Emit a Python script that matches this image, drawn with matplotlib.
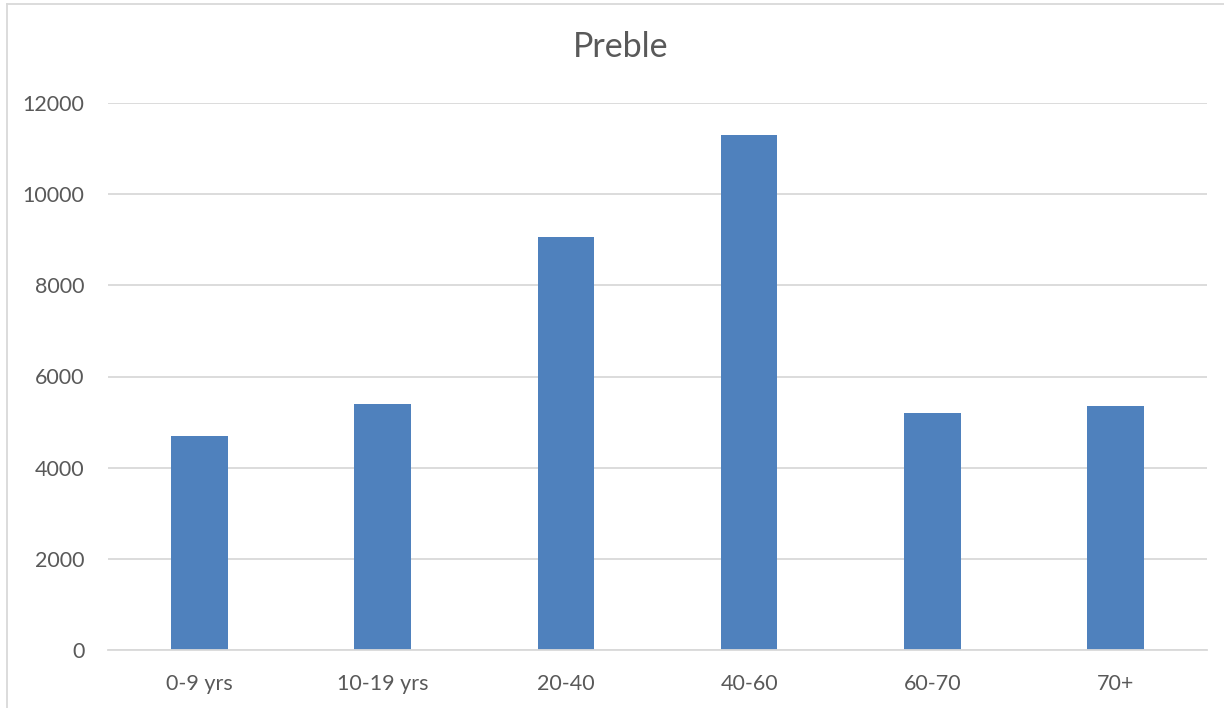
import matplotlib
matplotlib.use("Agg")
import matplotlib.pyplot as plt
from matplotlib.lines import Line2D

# Population by age group
categories = ["0-9 yrs", "10-19 yrs", "20-40", "40-60", "60-70", "70+"]
population = [4690, 5390, 9060, 11305, 5190, 5350]
y_ticks = [0, 2000, 4000, 6000, 8000, 10000, 12000]
title = "Preble"

plt.rcParams["font.family"] = ["Lato", "DejaVu Sans"]

W, H = 1224, 708
fig = plt.figure(figsize=(W / 100, H / 100), dpi=100)
ax = fig.add_axes([108 / W, (H - 650) / H, (1207 - 108) / W, (650 - 103) / H])

x = range(len(categories))
ax.bar(x, population, width=0.31, color="#4f81bd", zorder=3)

ax.set_xlim(-0.5, len(categories) - 0.5)
ax.set_ylim(0, 12000)
ax.set_yticks(y_ticks)
ax.set_yticklabels([str(v) for v in y_ticks])
ax.set_xticks(list(x))
ax.set_xticklabels(categories)

ax.grid(axis="y", color="#d9d9d9", linewidth=1.3, zorder=0)
for side in ("top", "right", "left"):
    ax.spines[side].set_visible(False)
ax.spines["bottom"].set_color("#d9d9d9")
ax.spines["bottom"].set_linewidth(1.3)
ax.spines["bottom"].set_zorder(4)

ax.tick_params(axis="both", length=0, labelsize=15.5, labelcolor="#595959")
ax.tick_params(axis="y", pad=17)
ax.tick_params(axis="x", pad=17)

fig.text(621 / W, (H - 47) / H, title, ha="center", va="center",
         fontsize=24.5, color="#595959")

# chart area frame (top and left edges)
fig.add_artist(Line2D([7 / W, 1.0], [(H - 4) / H, (H - 4) / H], color="#d9d9d9",
                      linewidth=1.3, transform=fig.transFigure))
fig.add_artist(Line2D([7 / W, 7 / W], [0, (H - 4) / H], color="#d9d9d9",
                      linewidth=1.3, transform=fig.transFigure))

fig.savefig("out.png", dpi=100, facecolor="white")
